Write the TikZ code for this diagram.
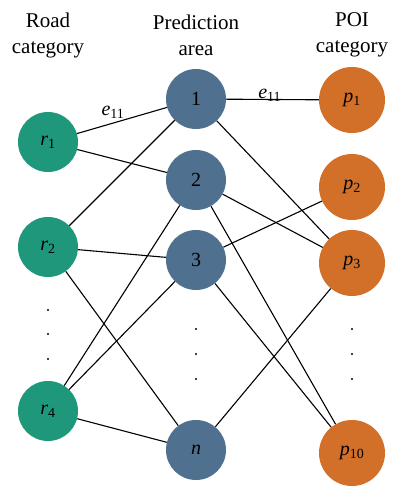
\documentclass[tikz,border=0pt]{standalone}
\usepackage{fontspec}
\setmainfont{Liberation Serif}
\usepackage{tikz}

\definecolor{roadgreen}{HTML}{1F977B}
\definecolor{areablue}{HTML}{50708F}
\definecolor{poiorange}{HTML}{D2702A}
\newcommand{\idx}[2]{\textit{#1}\textsubscript{#2}}

\tikzset{
  road/.style={circle,fill=roadgreen,minimum size=60pt,inner sep=0pt},
  area/.style={circle,fill=areablue,minimum size=60pt,inner sep=0pt},
  poi/.style={circle,fill=poiorange,minimum size=66pt,inner sep=0pt},
  head/.style={align=center,font=\fontsize{21}{26}\selectfont},
  link/.style={line width=1.1pt},
}

\begin{document}
\begin{tikzpicture}[x=1pt,y=-1pt,font=\fontsize{20}{24}\selectfont]
  \useasboundingbox (0,0) rectangle (401,500);

  % Column headings
  \node[head] (hroad) at (48,35) {Road\\category};
  \node[head] (harea) at (196,35) {Prediction\\area};
  \node[head] (hpoi) at (352,35) {POI\\category};

  % Road category nodes
  \node[road] (r1) at (48,142) {\idx{r}{1}};
  \node[road] (r2) at (48,247) {\idx{r}{2}};
  \node[road] (r4) at (48,411) {\idx{r}{4}};

  % Prediction area nodes
  \node[area] (a1) at (196,99) {1};
  \node[area] (a2) at (196,180) {2};
  \node[area] (a3) at (196,260) {3};
  \node[area] (an) at (196,450) {\textit{n}};

  % POI category nodes
  \node[poi] (p1) at (352,100) {\idx{p}{1}};
  \node[poi] (p2) at (352,187) {\idx{p}{2}};
  \node[poi] (p3) at (352,263) {\idx{p}{3}};
  \node[poi] (p10) at (352,453) {\idx{p}{10}};

  % Vertical dots
  \foreach \y in {310,334,359}
    \fill (48,\y) circle (1.2pt);
  \foreach \x in {196,352}
    \foreach \y in {329,354,379}
      \fill (\x,\y) circle (1.2pt);

  % Labelled edges
  \draw[link] (r1) -- node[pos=0.40,anchor=base,yshift=8pt] {\idx{e}{11}} (a1);
  \draw[link] (a1) -- node[pos=0.47,anchor=base,yshift=1pt] {\idx{e}{11}} (p1);

  % Other edges
  \foreach \a/\b in {r1/a2,r2/a1,r2/a3,r2/an,r4/a2,r4/a3,r4/an,
                     a1/p3,a2/p3,a2/p10,a3/p2,a3/p10,an/p3}
    \draw[link] (\a) -- (\b);
\end{tikzpicture}
\end{document}
